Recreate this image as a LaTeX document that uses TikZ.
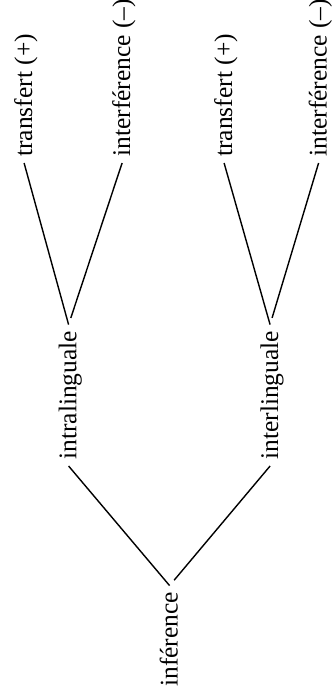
\documentclass[tikz,border=0pt]{standalone}
\usepackage{fontspec}
\setmainfont{Liberation Serif}
\begin{document}
\begin{tikzpicture}[x=0.02cm,y=-0.02cm,
    lbl/.style={rotate=90,anchor=base west,inner xsep=3.4pt,inner ysep=0pt,
        text height=0.9em,text depth=0pt,font=\fontsize{14.5}{16}\selectfont},
    branch/.style={line width=0.8pt,shorten <=4pt}]
                \useasboundingbox (0,0) rectangle (333,694);
                \node[lbl] (inf) at (177.5,693) {inférence};
                \node[lbl] (intra) at (76.5,466) {intralinguale};
                \node[lbl] (inter) at (278,466) {interlinguale};
                \node[lbl] (tra) at (32,163) {transfert (+)};
                \node[lbl] (ita) at (130,163) {interférence (--)};
                \node[lbl] (tre) at (232,163) {transfert (+)};
                \node[lbl] (ite) at (326.5,163) {interférence (--)};
                \draw[branch] (inf.east)--(intra.west) (inf.east)--(inter.west);
                \draw[branch] (intra.east)--(tra.west) (intra.east)--(ita.west);
                \draw[branch] (inter.east)--(tre.west) (inter.east)--(ite.west);
            \end{tikzpicture}
\end{document}
